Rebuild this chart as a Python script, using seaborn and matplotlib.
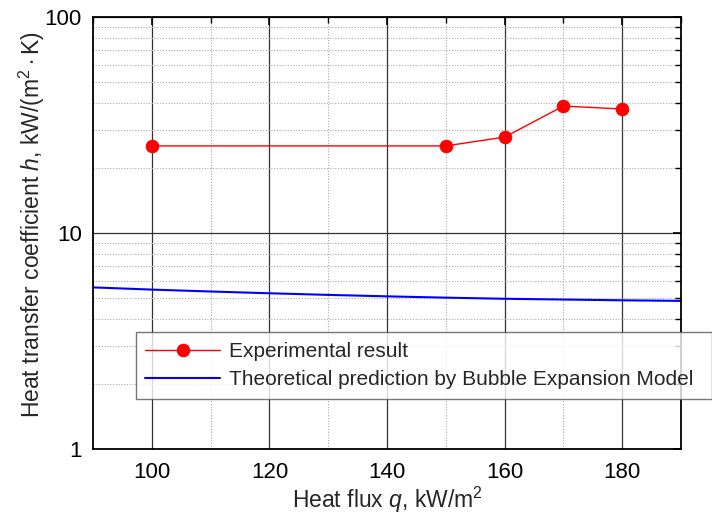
import numpy as np
import pandas as pd
import seaborn as sns
import matplotlib
matplotlib.use("Agg")
import matplotlib.pyplot as plt
from matplotlib.ticker import LogLocator, FixedLocator, NullFormatter, FixedFormatter

# Data
q_exp = [100, 150, 160, 170, 180]
h_exp = [25.3, 25.3, 27.8, 38.7, 37.5]
q_theo = [90, 100, 110, 120, 130, 140, 150, 160, 170, 180, 190]
h_theo = [5.6, 5.47, 5.36, 5.26, 5.17, 5.09, 5.02, 4.96, 4.92, 4.88, 4.85]

sns.set_theme(style="white")
plt.rcParams['font.family'] = ['Liberation Sans', 'DejaVu Sans']
plt.rcParams['mathtext.fontset'] = 'custom'
plt.rcParams['mathtext.it'] = 'Liberation Sans:italic'
plt.rcParams['mathtext.rm'] = 'Liberation Sans'

fig = plt.figure(figsize=(7.12, 5.18), dpi=100)
ax = fig.add_axes([93/712, 1-449/518, (681-93)/712, (449-17)/518])

df_exp = pd.DataFrame({"q": q_exp, "h": h_exp})
df_theo = pd.DataFrame({"q": q_theo, "h": h_theo})

ax.set_yscale("log")
sns.lineplot(data=df_exp, x="q", y="h", ax=ax, color="#ff0000", lw=1.0, marker="o",
             markersize=9, markeredgecolor="#ff0000", label="Experimental result")
sns.lineplot(data=df_theo, x="q", y="h", ax=ax, color="#0000ff", lw=1.5,
             label="Theoretical prediction by Bubble Expansion Model")

ax.set_xlim(90, 190)
ax.set_ylim(1, 100)

ax.xaxis.set_major_locator(FixedLocator([100, 120, 140, 160, 180]))
ax.xaxis.set_minor_locator(FixedLocator([90, 110, 130, 150, 170, 190]))
ax.yaxis.set_major_locator(FixedLocator([1, 10, 100]))
ax.yaxis.set_major_formatter(FixedFormatter(["1", "10", "100"]))
ax.yaxis.set_minor_locator(LogLocator(base=10, subs=np.arange(2, 10)))
ax.yaxis.set_minor_formatter(NullFormatter())

ax.grid(True, which="major", color="#333333", lw=0.9, ls="-")
ax.grid(True, which="minor", color="#aaaaaa", lw=0.8, ls=(0, (1, 1.5)))
ax.set_axisbelow(True)

ax.tick_params(which="both", direction="in", top=True, right=True, labelsize=16, colors="black")
ax.tick_params(which="major", length=6, width=1.2)
ax.tick_params(which="minor", length=4, width=1.0)
ax.tick_params(axis="x", which="major", pad=9)
ax.tick_params(axis="y", which="major", pad=8)
for s in ax.spines.values():
    s.set_color("black")
    s.set_linewidth(1.3)

ax.set_xlabel(r"Heat flux $\mathit{q}$, kW/m$^2$", fontsize=16.5, labelpad=2)
ax.set_ylabel(r"Heat transfer coefficient $\mathit{h}$, kW/(m$^2\cdot$K)", fontsize=16.5)
ax.yaxis.set_label_coords(-0.078, 0.52)

leg = ax.legend(loc="center left", bbox_to_anchor=(136/712, 1-398/518, (712-136)/712, (398-333)/518),
                bbox_transform=fig.transFigure, mode="expand", fontsize=15, frameon=True,
                fancybox=False, edgecolor="#555555", borderaxespad=0, handlelength=3.6,
                handletextpad=0.4, borderpad=0.45, labelspacing=0.45)
leg.get_frame().set_linewidth(1.0)
leg.set_clip_on(False)

fig.savefig("out.png", dpi=100)
